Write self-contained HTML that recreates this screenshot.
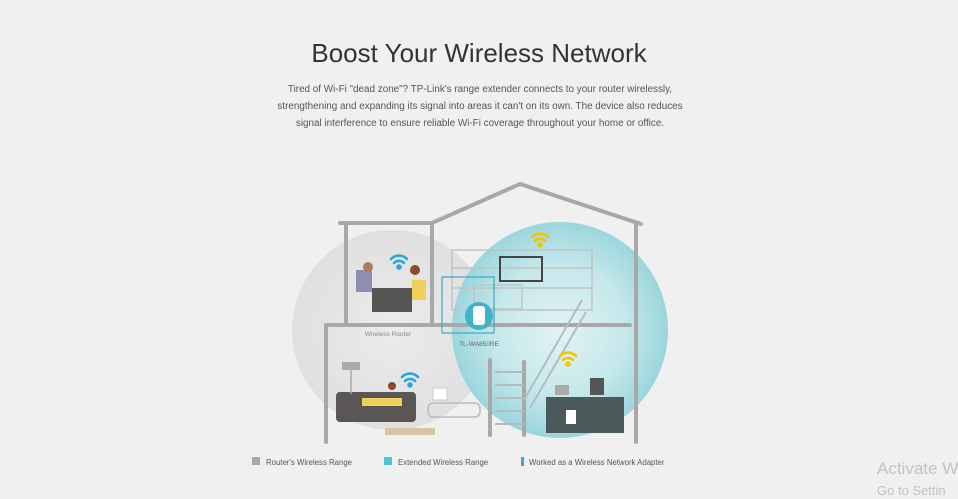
<!DOCTYPE html>
<html><head><meta charset="utf-8"><style>
html,body{margin:0;padding:0;background:#f0f0f0;width:958px;height:499px;overflow:hidden;font-family:"Liberation Sans",sans-serif}
</style></head><body>
<svg width="958" height="499" viewBox="0 0 958 499" xmlns="http://www.w3.org/2000/svg" font-family="Liberation Sans, sans-serif">
<defs>
<radialGradient id="cy" cx="0.5" cy="0.5" r="0.5">
<stop offset="0" stop-color="#e2f3f4"/><stop offset="0.6" stop-color="#c6e8eb"/><stop offset="1" stop-color="#9ad6dc"/>
</radialGradient>
<radialGradient id="gr" cx="0.5" cy="0.5" r="0.5">
<stop offset="0" stop-color="#ebebeb"/><stop offset="1" stop-color="#e0e0e0"/>
</radialGradient>
</defs>
<rect width="958" height="499" fill="#f0f0f0"/>
<text x="479" y="62" font-size="26" fill="#333" text-anchor="middle">Boost Your Wireless Network</text>
<g font-size="9.9" fill="#555" text-anchor="middle">
<text x="480" y="92">Tired of Wi-Fi "dead zone"? TP-Link's range extender connects to your router wirelessly,</text>
<text x="480" y="109">strengthening and expanding its signal into areas it can't on its own. The device also reduces</text>
<text x="480" y="126">signal interference to ensure reliable Wi-Fi coverage throughout your home or office.</text>
</g>
<circle cx="392" cy="330" r="100" fill="url(#gr)"/>
<circle cx="560" cy="330" r="108" fill="url(#cy)"/>
<g stroke="#a8a8a8" stroke-width="4" fill="none" stroke-linecap="round">
<path d="M340 223 L432 223 L520 184 L641 224"/>
<path d="M346 223 V325 M432 223 V325 M636 224 V442"/>
<path d="M326 325 H630 M326 325 V442"/>
<path d="M490 360 V435 M524 362 V435"/>
</g>
<g stroke="#c0c4c4" stroke-width="1.5" fill="none">
<rect x="452" y="250" width="140" height="60"/>
<line x1="452" y1="268" x2="592" y2="268"/><line x1="452" y1="288" x2="592" y2="288"/>
<rect x="474" y="285" width="48" height="24"/>
</g>
<rect x="500" y="257" width="42" height="24" fill="none" stroke="#444" stroke-width="2"/>
<g stroke="#b5bcbd" stroke-width="2" fill="none">
<path d="M524 400 L582 300 M530 408 L586 312"/>
<path d="M495 372 H524 M495 385 H524 M495 398 H524 M495 411 H524 M495 424 H524"/>
</g>
<rect x="442" y="277" width="52" height="56" fill="none" stroke="#3aa8c4" stroke-width="1.2"/>
<circle cx="479" cy="316" r="14" fill="#3fb3c9"/>
<rect x="473" y="306" width="12" height="19" rx="3" fill="#fff"/>
<text x="479" y="346" font-size="6.5" fill="#666" text-anchor="middle">TL-WA850RE</text>
<text x="388" y="336" font-size="6.5" fill="#888" text-anchor="middle">Wireless Router</text>
<rect x="372" y="288" width="40" height="24" fill="#555"/>
<rect x="356" y="270" width="16" height="22" fill="#8c8fb0"/>
<circle cx="368" cy="267" r="5" fill="#b07a60"/>
<rect x="412" y="280" width="14" height="20" fill="#f0cf5a"/>
<circle cx="415" cy="270" r="5" fill="#8a4a2a"/>
<rect x="336" y="392" width="80" height="30" rx="4" fill="#5a5656"/>
<rect x="362" y="398" width="40" height="8" fill="#f0cf5a"/>
<circle cx="392" cy="386" r="4" fill="#8a4a2a"/>
<rect x="342" y="362" width="18" height="8" fill="#aaa"/>
<line x1="351" y1="370" x2="351" y2="394" stroke="#aaa" stroke-width="1.5"/>
<rect x="428" y="403" width="52" height="14" rx="5" fill="none" stroke="#bbb" stroke-width="1.5"/>
<rect x="433" y="388" width="14" height="12" fill="#fff" stroke="#ccc"/>
<rect x="385" y="428" width="50" height="7" fill="#d9c3a0"/>
<rect x="546" y="397" width="78" height="36" fill="#4a5a5a"/>
<rect x="566" y="410" width="10" height="14" fill="#fff"/>
<rect x="590" y="378" width="14" height="17" fill="#555"/>
<rect x="555" y="385" width="14" height="10" fill="#aaa"/>
<g fill="none" stroke-width="2.6" stroke-linecap="round">
<g stroke="#2ba6dd"><path d="M391 259 a11 11 0 0 1 16 0 M394 263 a7 7 0 0 1 10 0"/><circle cx="399" cy="267" r="1.5" fill="#2ba6dd"/></g>
<g stroke="#2ba6dd"><path d="M402 377 a11 11 0 0 1 16 0 M405 381 a7 7 0 0 1 10 0"/><circle cx="410" cy="385" r="1.5" fill="#2ba6dd"/></g>
<g stroke="#f3c400"><path d="M532 237 a11 11 0 0 1 16 0 M535 241 a7 7 0 0 1 10 0"/><circle cx="540" cy="245" r="1.5" fill="#f3c400"/></g>
<g stroke="#f3c400"><path d="M560 356 a11 11 0 0 1 16 0 M563 360 a7 7 0 0 1 10 0"/><circle cx="568" cy="364" r="1.5" fill="#f3c400"/></g>
</g>
<rect x="252" y="457" width="8" height="8" fill="#a9a9a9"/>
<text x="266" y="465" font-size="7.8" fill="#555">Router's Wireless Range</text>
<rect x="384" y="457" width="8" height="8" fill="#4fc5cf"/>
<text x="398" y="465" font-size="7.8" fill="#555">Extended Wireless Range</text>
<rect x="521" y="457" width="3" height="9" fill="#3fa6cf"/>
<text x="529" y="465" font-size="7.8" fill="#555">Worked as a Wireless Network Adapter</text>
<text x="877" y="474" font-size="17" fill="#c2c2c2">Activate W</text>
<text x="877" y="495" font-size="13" fill="#c2c2c2">Go to Settin</text>
</svg>
</body></html>
